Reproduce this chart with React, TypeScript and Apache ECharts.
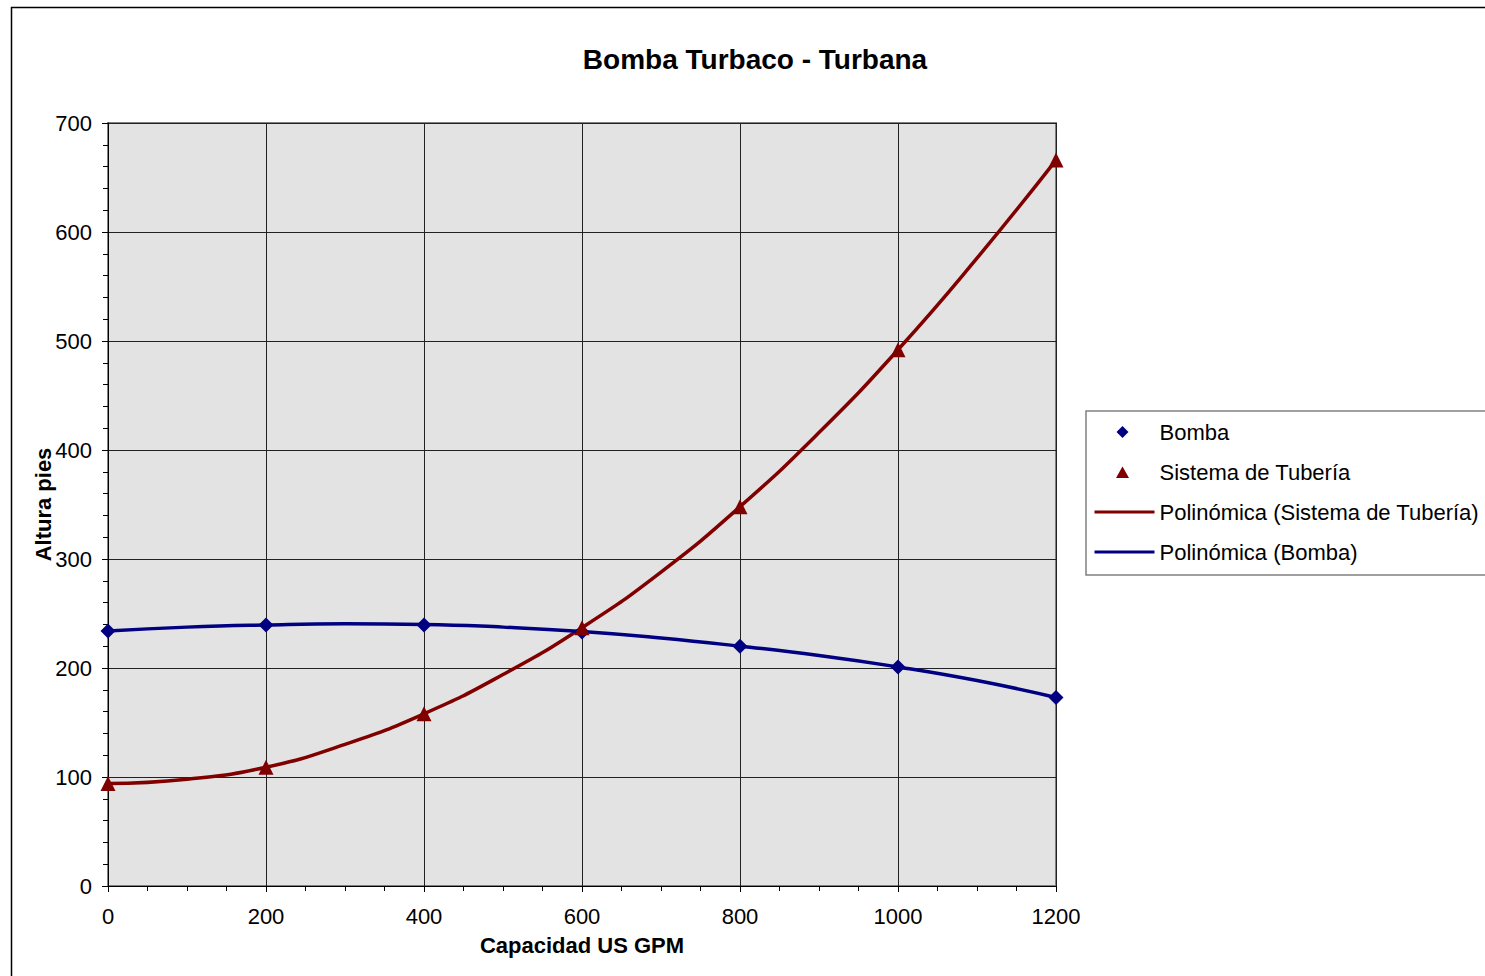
import React, { useEffect, useRef } from "react";
import * as echarts from "echarts";

const capacity = [0, 200, 400, 600, 800, 1000, 1200];
const bomba = [234, 239.5, 239.5, 233, 220, 201, 173];
const sistema = [94, 109, 158, 237, 348, 492, 666];

const trendX = [0, 100, 200, 300, 400, 500, 600, 700, 800, 900, 1000, 1100, 1200];
const trendSistema = [94, 98, 109, 130, 158, 194, 237, 288, 348, 416, 492, 576, 666];
const trendBomba = [234, 237.5, 239.5, 240.5, 240, 237.5, 233.5, 227.5, 220, 211.5, 201, 188.5, 173];

const FONT = "'Liberation Sans', Arial, sans-serif";
const BLUE = "#000080";
const RED = "#800000";

const DIAMOND_ICON = "path://M0,0 M60,13 M28,0.5 L34,6.5 L28,12.5 L22,6.5 Z";
const TRIANGLE_ICON = "path://M0,0 M60,13 M28,1 L34.5,12.5 L21.5,12.5 Z";

export default function App() {
  const ref = useRef<HTMLDivElement>(null);
  useEffect(() => {
    if (!ref.current) return;
    const chart = echarts.init(ref.current, undefined, { renderer: "svg" });
    const pair = (xs: number[], ys: number[]) => xs.map((x, i) => [x, ys[i]]);
    chart.setOption({
      animation: false,
      backgroundColor: "#ffffff",
      textStyle: { fontFamily: FONT },
      title: {
        text: "Bomba Turbaco - Turbana",
        left: 755,
        textAlign: "center",
        top: 45,
        padding: 0,
        textStyle: { fontFamily: FONT, fontSize: 28, fontWeight: "bold", color: "#000" },
      },
      graphic: [
        {
          type: "rect",
          shape: { x: 11.5, y: 7.5, width: 1600, height: 1100 },
          style: { fill: "none", stroke: "#000", lineWidth: 1.5 },
          silent: true,
          z: 0,
        },
      ],
      legend: {
        orient: "vertical",
        left: 1086,
        top: 411,
        padding: [10, 10, 12, 7],
        itemWidth: 60,
        itemHeight: 13,
        itemGap: 18,
        backgroundColor: "#fff",
        borderColor: "#808080",
        borderWidth: 1.5,
        borderRadius: 0,
        textStyle: { fontFamily: FONT, fontSize: 22, color: "#000" },
        data: [
          { name: "Bomba", icon: DIAMOND_ICON },
          { name: "Sistema de Tubería", icon: TRIANGLE_ICON },
          {
            name: "Polinómica (Sistema de Tubería)",
            itemStyle: { opacity: 0 },
            lineStyle: { width: 3 },
          },
          { name: "Polinómica (Bomba)", itemStyle: { opacity: 0 }, lineStyle: { width: 3 } },
        ],
      },
      grid: {
        left: 108,
        right: 429,
        top: 123,
        bottom: 90,
        show: true,
        backgroundColor: "#E3E3E3",
        borderColor: "#808080",
        borderWidth: 2,
      },
      xAxis: {
        type: "value",
        min: 0,
        max: 1200,
        interval: 200,
        name: "Capacidad US GPM",
        nameLocation: "middle",
        nameGap: 48,
        nameTextStyle: { fontFamily: FONT, fontSize: 22, fontWeight: "bold", color: "#000" },
        axisLine: { show: true, lineStyle: { color: "#000", width: 1 } },
        axisTick: { show: true, length: 6, lineStyle: { color: "#000" } },
        minorTick: { show: true, splitNumber: 4, length: 5, lineStyle: { color: "#000" } },
        axisLabel: {
          fontFamily: FONT,
          fontSize: 22,
          color: "#000",
          margin: 19,
          formatter: (v: number) => String(v),
        },
        splitLine: { show: true, lineStyle: { color: "#222", width: 1 } },
      },
      yAxis: {
        type: "value",
        min: 0,
        max: 700,
        interval: 100,
        name: "Altura pies",
        nameLocation: "middle",
        nameGap: 54,
        nameMoveOverlap: false,
        nameTextStyle: { fontFamily: FONT, fontSize: 22, fontWeight: "bold", color: "#000" },
        axisLine: { show: true, lineStyle: { color: "#000", width: 1 } },
        axisTick: { show: true, length: 6, lineStyle: { color: "#000" } },
        minorTick: { show: true, splitNumber: 5, length: 5, lineStyle: { color: "#000" } },
        axisLabel: { fontFamily: FONT, fontSize: 22, color: "#000", margin: 16 },
        splitLine: { show: true, lineStyle: { color: "#222", width: 1 } },
      },
      series: [
        {
          name: "Polinómica (Sistema de Tubería)",
          type: "line",
          data: pair(trendX, trendSistema),
          smooth: true,
          showSymbol: false,
          symbol: "none",
          lineStyle: { color: RED, width: 3.5 },
          itemStyle: { color: RED },
          z: 2,
        },
        {
          name: "Polinómica (Bomba)",
          type: "line",
          data: pair(trendX, trendBomba),
          smooth: true,
          showSymbol: false,
          symbol: "none",
          lineStyle: { color: BLUE, width: 3.5 },
          itemStyle: { color: BLUE },
          z: 2,
        },
        {
          name: "Bomba",
          type: "scatter",
          data: pair(capacity, bomba),
          symbol: "diamond",
          symbolSize: 15,
          itemStyle: { color: BLUE, opacity: 1 },
          z: 3,
        },
        {
          name: "Sistema de Tubería",
          type: "scatter",
          data: pair(capacity, sistema),
          symbol: "triangle",
          symbolSize: 15,
          itemStyle: { color: RED, opacity: 1 },
          z: 3,
        },
      ],
    });
    return () => chart.dispose();
  }, []);
  return (
    <div
      ref={ref}
      style={{ position: "fixed", left: 0, top: 0, width: 1485, height: 976 }}
    />
  );
}
